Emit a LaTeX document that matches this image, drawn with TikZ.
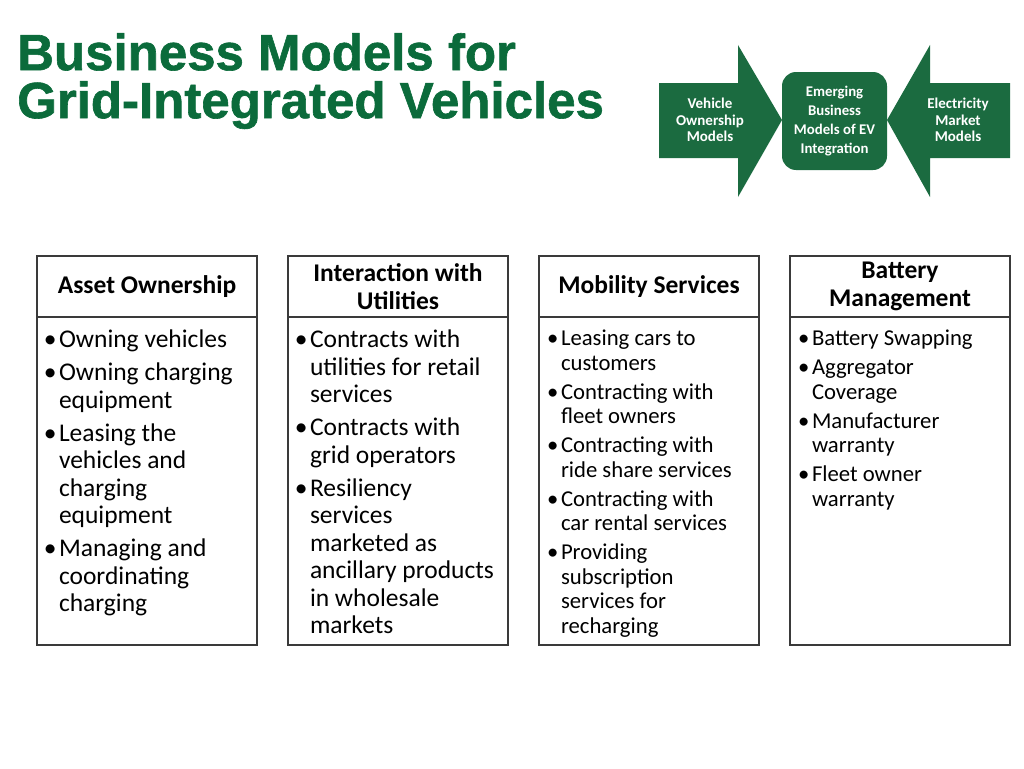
\documentclass[tikz,border=0pt]{standalone}
\usepackage{fontspec}
\setmainfont{Carlito}
\newfontfamily\titlefont[BoldFeatures={FakeBold=1.2}]{Liberation Sans}
\usetikzlibrary{positioning}
\definecolor{TitleGreen}{HTML}{0B6B3B}
\definecolor{ShapeGreen}{HTML}{1B6B40}
\definecolor{BoxLine}{HTML}{3A3A3A}

% Lista con viñetas dentro de cada caja.
\newenvironment{itemlist}[3]{%
  \begin{minipage}[c][302pt][t]{204pt}\raggedright\fontsize{#1}{#2}\selectfont
  \begin{list}{\llap{\textbullet\hspace{2.5pt}}}{\setlength\leftmargin{14pt}\setlength\labelwidth{14pt}%
    \setlength\labelsep{0pt}\setlength\itemsep{#3}\setlength\topsep{0pt}%
    \setlength\parsep{0pt}\setlength\partopsep{0pt}}}
 {\end{list}\end{minipage}}

\tikzset{
    head box/.style={
        draw=BoxLine, line width=1.3pt, outer sep=0pt, inner sep=0pt,
        minimum width=220pt, minimum height=61pt,
        align=center, font=\fontsize{25.5}{28}\selectfont\bfseries
    },
    body box/.style={
        draw=BoxLine, line width=1.3pt, outer sep=0pt,
        minimum width=220pt, minimum height=328pt,
        inner xsep=8pt, inner ysep=13pt
    },
    green shape/.style={fill=ShapeGreen, draw=none},
    arrow label/.style={
        text=white, align=center, font=\fontsize{15}{16.5}\selectfont\bfseries
    }
}

\begin{document}
\begin{tikzpicture}[x=1pt, y=-1pt]

\useasboundingbox (0,0) rectangle (1024,768);

% Titulo.
\node[anchor=north west, inner sep=0pt, align=left, text=TitleGreen,
      font=\titlefont\bfseries\fontsize{51}{48}\selectfont] (title) at (17,33)
    {Business Models for\\Grid-Integrated Vehicles};

% Flechas verdes.
\fill[green shape] (659,83) -- (738,83) -- (738,45) -- (782,120)
    -- (738,197) -- (738,158) -- (659,158) -- cycle;
\fill[green shape] (1010,83) -- (930,83) -- (930,45) -- (887,120)
    -- (930,197) -- (930,158) -- (1010,158) -- cycle;
\node[green shape, rounded corners=14pt, minimum width=105pt, minimum height=98pt,
      arrow label, font=\fontsize{14.8}{19}\selectfont\bfseries] (emerging) at (834.5,121)
    {Emerging\\Business\\Models of EV\\Integration};
\node[arrow label] (vehicle) at (710,120) {Vehicle\\Ownership\\Models};
\node[arrow label] (electricity) at (958,120) {Electricity\\Market\\Models};

% Encabezados.
\node[head box] (asset) at (147,286.5) {Asset Ownership};
\node[head box, right=31pt of asset] (utilities) {Interaction with\\Utilities};
\node[head box, right=31pt of utilities] (mobility) {Mobility Services};
\node[head box, right=31pt of mobility] (battery) {Battery\\Management};

% Cuerpos de las cajas.
\node[body box, below=0pt of asset] (assetbody) {%
  \begin{itemlist}{25.5}{27.5}{5.5pt}
  \item Owning vehicles
  \item Owning charging\\equipment
  \item Leasing the\\vehicles and\\charging\\equipment
  \item Managing and\\coordinating\\charging
  \end{itemlist}};
\node[body box, below=0pt of utilities] (utilitiesbody) {%
  \begin{itemlist}{25.5}{27.5}{5.5pt}
  \item Contracts with\\utilities for retail\\services
  \item Contracts with\\grid operators
  \item Resiliency\\services\\marketed as\\ancillary products\\in wholesale\\markets
  \end{itemlist}};
\node[body box, below=0pt of mobility] (mobilitybody) {%
  \begin{itemlist}{22.7}{24.5}{4.5pt}
  \item Leasing cars to\\customers
  \item Contracting with\\fleet owners
  \item Contracting with\\ride share services
  \item Contracting with\\car rental services
  \item Providing\\subscription\\services for\\recharging
  \end{itemlist}};
\node[body box, below=0pt of battery] (batterybody) {%
  \begin{itemlist}{22.7}{24.5}{4.5pt}
  \item Battery Swapping
  \item Aggregator\\Coverage
  \item Manufacturer\\warranty
  \item Fleet owner\\warranty
  \end{itemlist}};

\end{tikzpicture}
\end{document}
